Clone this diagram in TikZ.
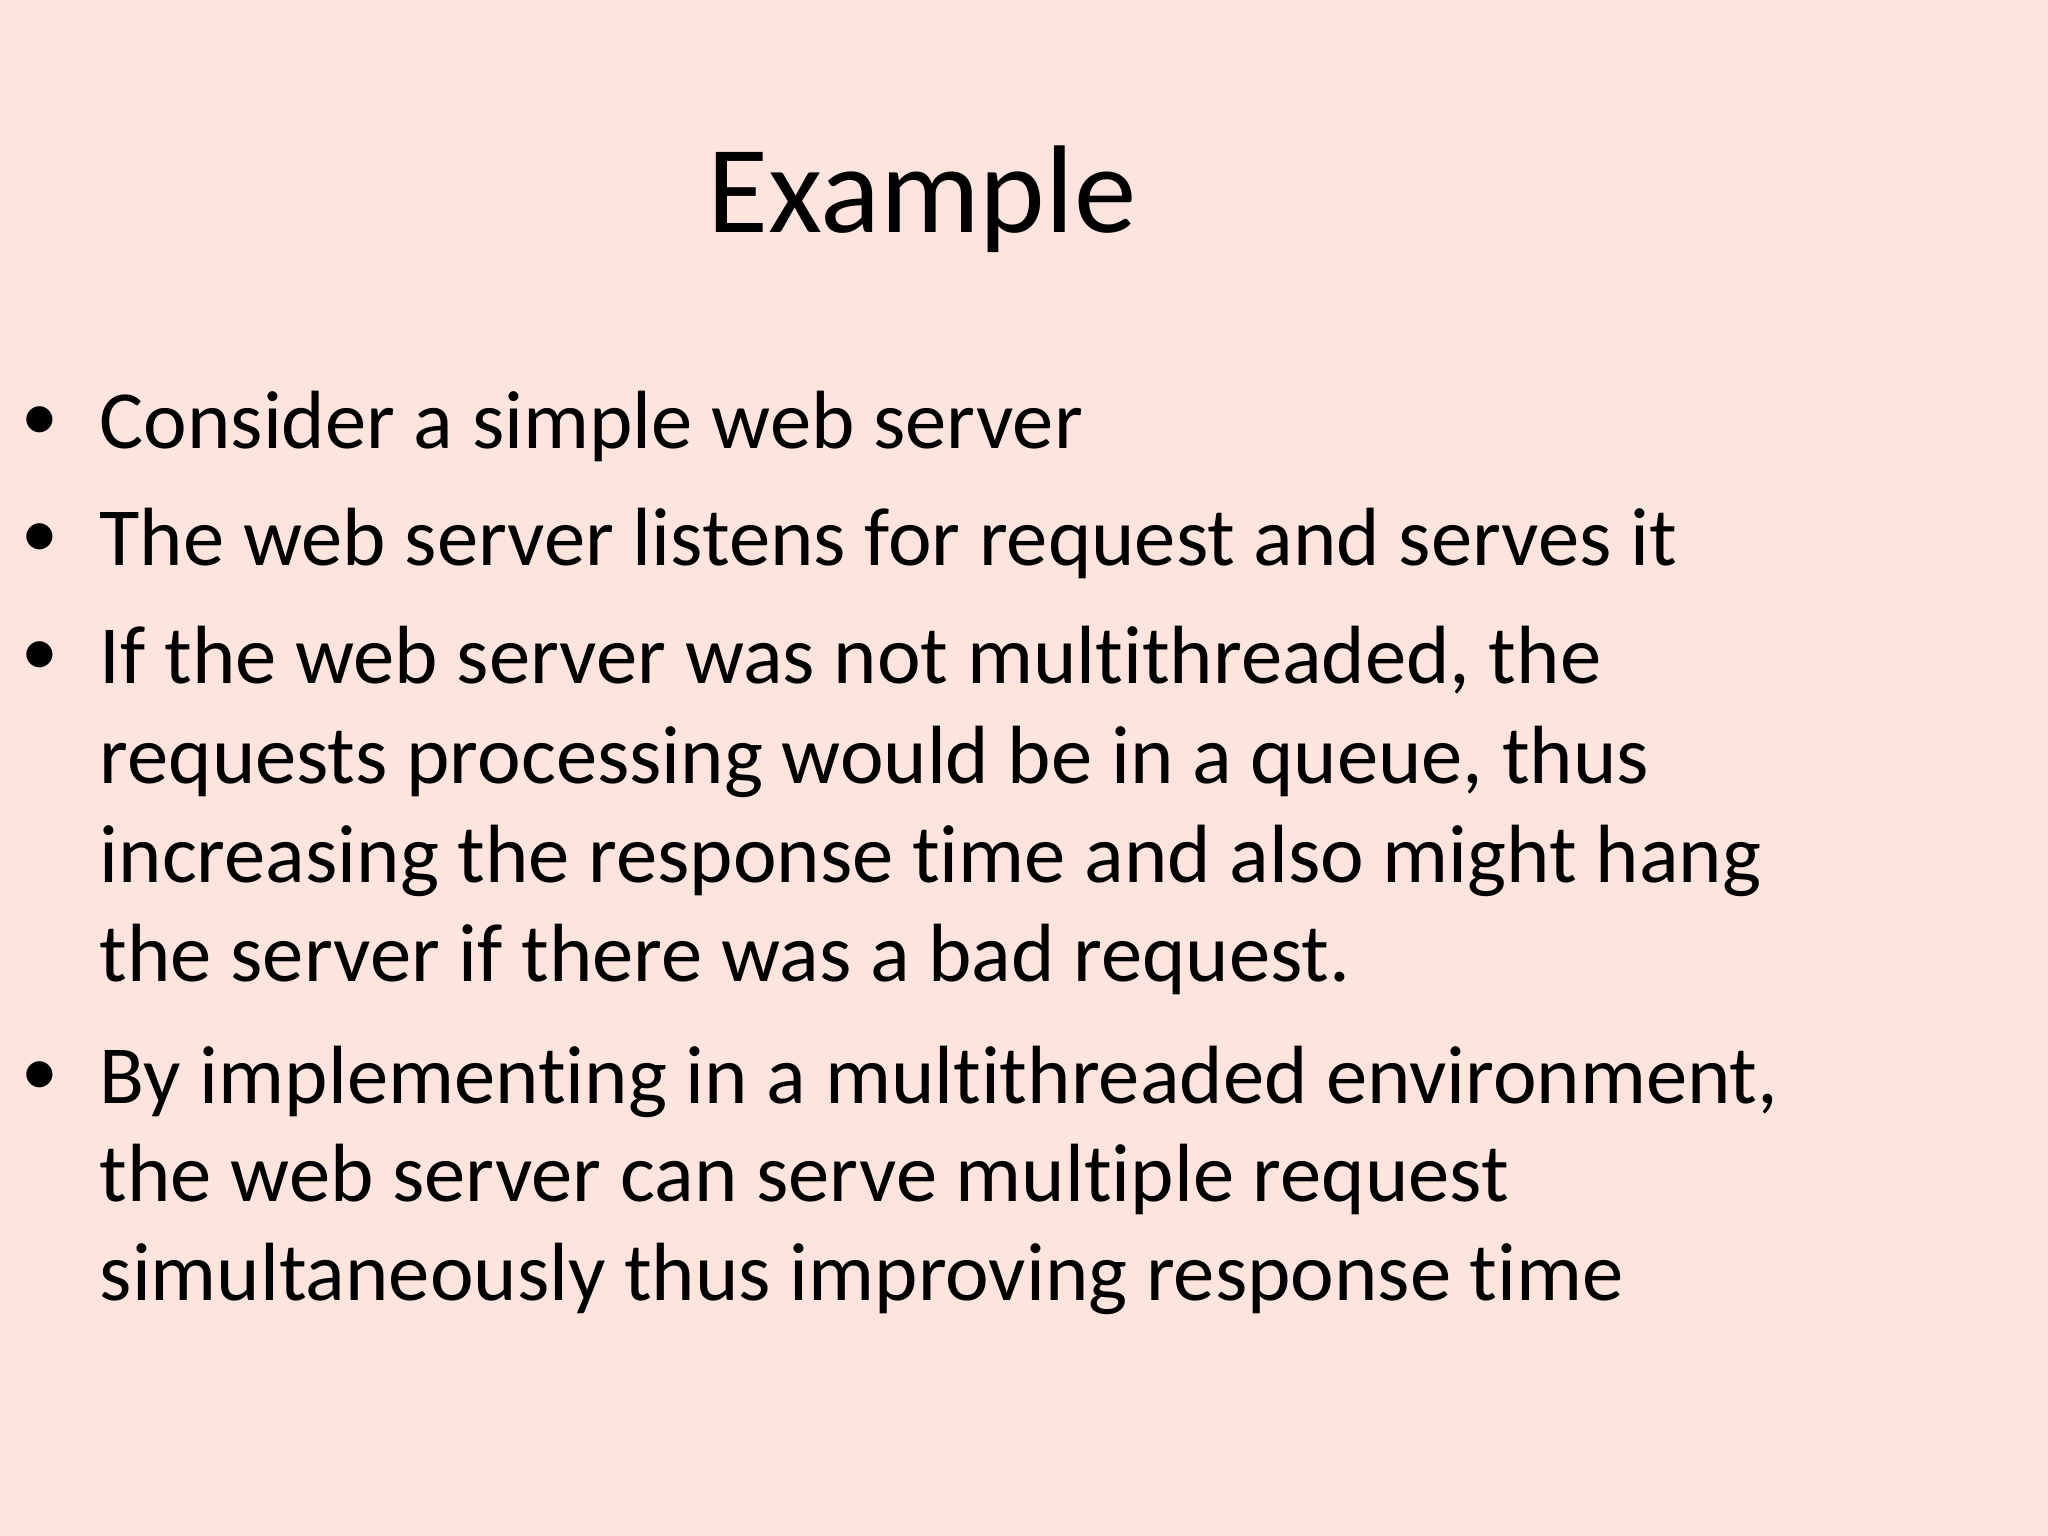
\documentclass[tikz,border=0pt]{standalone}
\usepackage{fontspec}
\setmainfont[Ligatures=NoCommon]{Carlito}
\definecolor{bg}{HTML}{FDE4DC}
\begin{document}
\begin{tikzpicture}[x=0.01cm,y=-0.01cm,
  ln/.style={anchor=base west,inner sep=0pt,font=\fontsize{23.5pt}{30pt}\selectfont},
  bl/.style={anchor=base,inner sep=0pt,font=\fontsize{21pt}{30pt}\selectfont}]
\fill[bg] (0,0) rectangle (2048,1536);
\useasboundingbox (0,0) rectangle (2048,1536);
\node[anchor=base,inner sep=0pt,font=\fontsize{35.5pt}{40pt}\selectfont] (title) at (922,232) {Example};
\node[bl] (b1) at (40,440) {•};
\node[ln] (l1) at (99,448) {Consider a simple web server};
\node[bl] (b2) at (40,557) {•};
\node[ln] (l2) at (99,565) {The web server listens for request and serves it};
\node[bl] (b3) at (40,675) {•};
\node[ln] (l3) at (99,683) {If the web server was not multithreaded, the};
\node[ln] (l4) at (99,783) {requests processing would be in a queue, thus};
\node[ln] (l5) at (99,882) {increasing the response time and also might hang};
\node[ln] (l6) at (99,981) {the server if there was a bad request.};
\node[bl] (b4) at (40,1095) {•};
\node[ln] (l7) at (99,1103) {By implementing in a multithreaded environment,};
\node[ln] (l8) at (99,1201) {the web server can serve multiple request};
\node[ln] (l9) at (99,1300) {simultaneously thus improving response time};
\end{tikzpicture}
\end{document}
